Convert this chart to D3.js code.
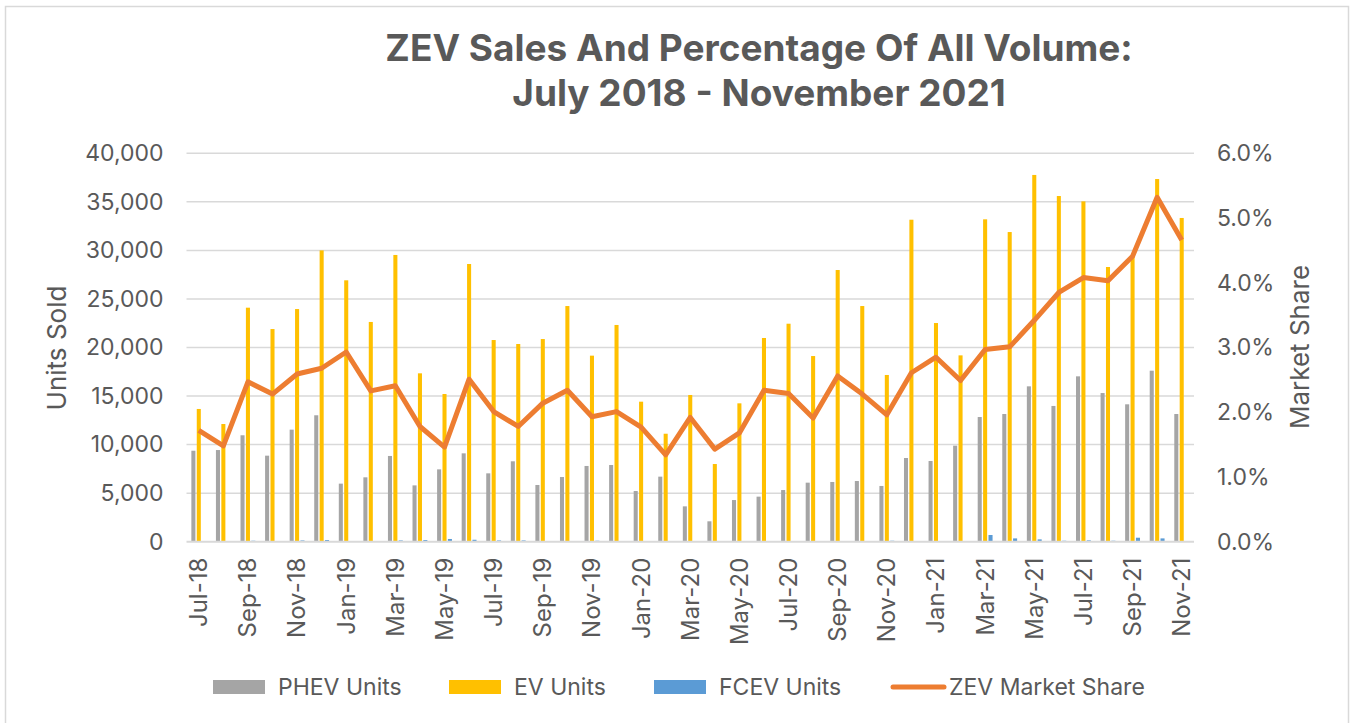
<!DOCTYPE html>
<html>
<head>
<meta charset="utf-8">
<script src="https://cdn.jsdelivr.net/npm/d3@7"></script>
<style>
    html, body { margin: 0; padding: 0; background: #fff; }
    svg { display: block; font-family: Inter, "Open Sans", sans-serif; }
    .tick text { fill: #595959; }
</style>
</head>
<body>
<svg id="chart" width="1351" height="723"></svg>
<script>
var months = ["Jul-18", "Aug-18", "Sep-18", "Oct-18", "Nov-18", "Dec-18",
    "Jan-19", "Feb-19", "Mar-19", "Apr-19", "May-19", "Jun-19", "Jul-19", "Aug-19", "Sep-19", "Oct-19", "Nov-19", "Dec-19",
    "Jan-20", "Feb-20", "Mar-20", "Apr-20", "May-20", "Jun-20", "Jul-20", "Aug-20", "Sep-20", "Oct-20", "Nov-20", "Dec-20",
    "Jan-21", "Feb-21", "Mar-21", "Apr-21", "May-21", "Jun-21", "Jul-21", "Aug-21", "Sep-21", "Oct-21", "Nov-21"];

var phevUnits = [9370, 9440, 10960, 8860, 11540, 13020, 5980, 6630, 8830, 5800, 7450, 9100, 7040, 8280, 5840, 6660, 7800, 7900,
    5220, 6700, 3640, 2100, 4290, 4640, 5320, 6080, 6150, 6250, 5740, 8620, 8310, 9890, 12840, 13150, 16000, 13980, 17030,
    15310, 14150, 17610, 13150];

var evUnits = [13670, 12120, 24100, 21900, 23960, 30000, 26920, 22630, 29530, 17340, 15210, 28600, 20770, 20360, 20870, 24270,
    19160, 22320, 14420, 11120, 15110, 8000, 14250, 20980, 22450, 19120, 27980, 24270, 17170, 33160, 22520, 19190, 33200,
    31890, 37770, 35600, 35050, 28290, 29350, 37350, 33340];

var fcevUnits = [30, 30, 100, 30, 130, 170, 30, 30, 130, 170, 280, 200, 130, 130, 30, 30, 100, 30, 30, 30, 30, 0, 60, 60,
    30, 30, 30, 30, 100, 0, 30, 30, 690, 340, 240, 100, 140, 100, 410, 340, 30];

// ZEV market share, percent
var zevShare = [1.72, 1.48, 2.47, 2.28, 2.59, 2.68, 2.93, 2.33, 2.41, 1.78, 1.46, 2.51, 2.01, 1.78, 2.14, 2.34, 1.93, 2.01,
    1.77, 1.34, 1.92, 1.43, 1.68, 2.34, 2.29, 1.91, 2.56, 2.28, 1.96, 2.61, 2.85, 2.49, 2.97, 3.01, 3.42, 3.85, 4.08, 4.03,
    4.41, 5.32, 4.66];

var unitTicks = [0, 5000, 10000, 15000, 20000, 25000, 30000, 35000, 40000];
var shareTicks = [0, 1, 2, 3, 4, 5, 6];

var seriesNames = ["PHEV Units", "EV Units", "FCEV Units", "ZEV Market Share"];
var seriesColors = ["#a5a5a5", "#ffc000", "#5b9bd5", "#ed7d31"];

var svg = d3.select("#chart");
var textColor = "#595959";

// frame of the chart area
svg.append("rect")
    .attr("x", 5.5).attr("y", 6.5)
    .attr("width", 1343).attr("height", 760)
    .attr("fill", "none")
    .attr("stroke", "#d9d9d9")
    .attr("stroke-width", 1.5);

var plotLeft = 186.5, plotRight = 1194, plotTop = 153.3, plotBottom = 541.7;

var x0 = d3.scaleBand().domain(months).range([plotLeft, plotRight]);
var x1 = d3.scaleBand().domain(["phev", "ev", "fcev"]).range([-8.1, 8.1]).paddingInner(0.25).paddingOuter(0.125);
var y = d3.scaleLinear().domain([0, 40000]).range([plotBottom, plotTop]);
var y2 = d3.scaleLinear().domain([0, 6]).range([plotBottom, plotTop]);

// title
var title = svg.append("text")
    .attr("text-anchor", "middle")
    .attr("fill", textColor)
    .attr("font-size", 37)
    .attr("font-weight", 700);
title.append("tspan").attr("x", 759).attr("y", 61).text("ZEV Sales And Percentage Of All Volume:");
title.append("tspan").attr("x", 759).attr("y", 106).text("July 2018 - November 2021");

// gridlines
svg.append("g")
    .selectAll("line")
    .data(unitTicks.slice(1))
    .enter().append("line")
    .attr("x1", plotLeft).attr("x2", plotRight)
    .attr("y1", function (d) { return y(d); })
    .attr("y2", function (d) { return y(d); })
    .attr("stroke", "#d9d9d9")
    .attr("stroke-width", 1.5);

// left axis
var yAxis = svg.append("g")
    .attr("transform", "translate(" + (plotLeft - 23) + ",0)")
    .call(d3.axisLeft(y).tickValues(unitTicks).tickSize(0).tickPadding(0).tickFormat(d3.format(",")));
yAxis.select(".domain").remove();
yAxis.selectAll("text").attr("font-size", 23).attr("font-family", "Inter, sans-serif");

// right axis
var y2Axis = svg.append("g")
    .attr("transform", "translate(" + (plotRight + 23) + ",0)")
    .call(d3.axisRight(y2).tickValues(shareTicks).tickSize(0).tickPadding(0).tickFormat(function (d) { return d.toFixed(1) + "%"; }));
y2Axis.select(".domain").remove();
y2Axis.selectAll("text").attr("font-size", 23).attr("font-family", "Inter, sans-serif");

// bars
var rows = months.map(function (m, i) {
    return {month: m, values: [
        {key: "phev", value: phevUnits[i], color: seriesColors[0]},
        {key: "ev", value: evUnits[i], color: seriesColors[1]},
        {key: "fcev", value: fcevUnits[i], color: seriesColors[2]}
    ]};
});

svg.append("g")
    .selectAll("g")
    .data(rows)
    .enter().append("g")
    .attr("transform", function (d) { return "translate(" + (x0(d.month) + x0.bandwidth() / 2) + ",0)"; })
    .selectAll("rect")
    .data(function (d) { return d.values; })
    .enter().append("rect")
    .attr("x", function (d) { return x1(d.key); })
    .attr("width", x1.bandwidth())
    .attr("y", function (d) { return y(d.value); })
    .attr("height", function (d) { return plotBottom - y(d.value); })
    .attr("fill", function (d) { return d.color; });

// category axis line
svg.append("line")
    .attr("x1", plotLeft).attr("x2", plotRight)
    .attr("y1", plotBottom).attr("y2", plotBottom)
    .attr("stroke", "#d9d9d9")
    .attr("stroke-width", 2);

// x labels, every other month
var xAxis = svg.append("g")
    .attr("transform", "translate(0," + plotBottom + ")")
    .call(d3.axisBottom(x0).tickSize(0).tickValues(months.filter(function (m, i) { return i % 2 === 0; })));
xAxis.select(".domain").remove();
xAxis.selectAll("text")
    .attr("font-size", 24)
    .attr("font-family", "Inter, sans-serif")
    .attr("text-anchor", "end")
    .attr("dy", "0.35em")
    .attr("dx", 0)
    .attr("y", 0)
    .attr("transform", "translate(0,16) rotate(-90)");

// market share line
var line = d3.line()
    .x(function (d, i) { return x0(months[i]) + x0.bandwidth() / 2; })
    .y(function (d) { return y2(d); });

svg.append("path")
    .datum(zevShare)
    .attr("d", line)
    .attr("fill", "none")
    .attr("stroke", seriesColors[3])
    .attr("stroke-width", 5)
    .attr("stroke-linejoin", "round");

// axis titles
svg.append("text")
    .attr("transform", "translate(66,348) rotate(-90)")
    .attr("text-anchor", "middle")
    .attr("fill", textColor)
    .attr("font-size", 26)
    .text("Units Sold");

svg.append("text")
    .attr("transform", "translate(1309,347) rotate(-90)")
    .attr("text-anchor", "middle")
    .attr("fill", textColor)
    .attr("font-size", 26)
    .text("Market Share");

// legend
var legendX = [213, 449, 654, 890];
var legend = svg.append("g").selectAll("g")
    .data(seriesNames)
    .enter().append("g")
    .attr("transform", function (d, i) { return "translate(" + legendX[i] + ",687)"; });

legend.filter(function (d, i) { return i < 3; })
    .append("rect")
    .attr("x", 0).attr("y", -7)
    .attr("width", 52).attr("height", 14)
    .attr("fill", function (d, i) { return seriesColors[i]; });

legend.filter(function (d, i) { return i === 3; })
    .append("line")
    .attr("x1", 3).attr("x2", 54)
    .attr("stroke", seriesColors[3])
    .attr("stroke-width", 5)
    .attr("stroke-linecap", "round");

legend.append("text")
    .attr("x", function (d, i) { return i === 3 ? 59 : 65; })
    .attr("dy", "0.35em")
    .attr("fill", textColor)
    .attr("font-size", 23)
    .text(function (d) { return d; });
</script>
</body>
</html>
